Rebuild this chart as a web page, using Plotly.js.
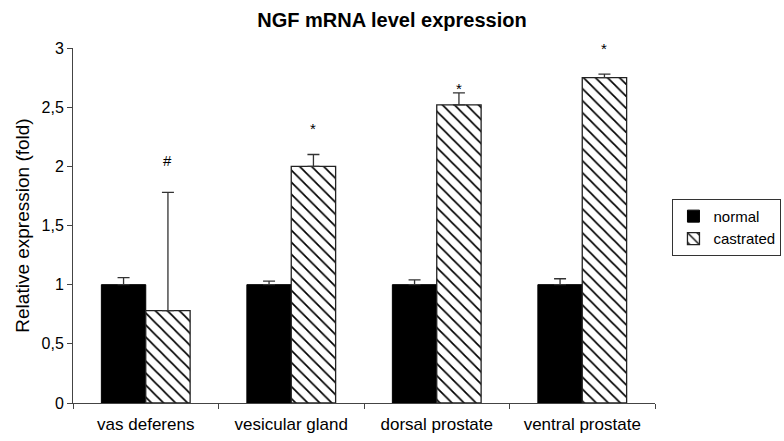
<!DOCTYPE html>
<html>
<head>
<meta charset="utf-8">
<script src="https://cdn.plot.ly/plotly-3.0.1.min.js"></script>
<style>html,body{margin:0;padding:0;background:#fff}#chart{width:784px;height:441px}</style>
</head>
<body>
<div id="chart"></div>
<script>
const categories = ["vas deferens", "vesicular gland", "dorsal prostate", "ventral prostate"];
const normalValues = [1.0, 1.0, 1.0, 1.0];
const normalErrors = [0.06, 0.03, 0.04, 0.05];
const castratedValues = [0.78, 2.0, 2.52, 2.75];
const castratedErrors = [1.0, 0.1, 0.1, 0.03];
const markLabels = ["#", "*", "*", "*"];
const markHeights = [2.05, 2.32, 2.66, 3.0];

const font = "Liberation Sans, Arial, sans-serif";

const traces = [
  {
    type: "bar", name: "normal", x: categories, y: normalValues,
    marker: {color: "#000000", line: {color: "#000000", width: 1}},
    error_y: {type: "data", array: normalErrors, arrayminus: normalErrors.map(() => 0), symmetric: false,
              color: "#333333", thickness: 1.3, width: 6}
  },
  {
    type: "bar", name: "castrated", x: categories, y: castratedValues,
    marker: {color: "#ffffff", line: {color: "#222222", width: 1.3},
             pattern: {shape: "\\", fgcolor: "#000000", bgcolor: "#ffffff", size: 8.5, solidity: 0.2}},
    error_y: {type: "data", array: castratedErrors, arrayminus: castratedErrors.map(() => 0), symmetric: false,
              color: "#333333", thickness: 1.3, width: 6}
  }
];

const annotations = categories.map((c, i) => ({
  x: c, y: markHeights[i], xref: "x", yref: "y", text: markLabels[i], showarrow: false,
  xshift: 22, font: {family: font, size: 15, color: "#000"}
}));

const layout = {
  width: 784, height: 441,
  margin: {l: 73, r: 129, t: 48, b: 38, autoexpand: false},
  paper_bgcolor: "#fff", plot_bgcolor: "#fff",
  separators: ",.",
  font: {family: font, size: 16, color: "#000"},
  title: {text: "<b>NGF mRNA level expression</b>", x: 0.5, xref: "container", y: 0.955, yanchor: "middle",
          font: {family: font, size: 20, color: "#000"}},
  barmode: "group", bargap: 0.39, bargroupgap: 0,
  showlegend: true,
  legend: {x: 1.03, y: 0.575, xanchor: "left", yanchor: "top", bordercolor: "#333", borderwidth: 1,
           font: {family: font, size: 15, color: "#000"}, tracegroupgap: 0, itemwidth: 30},
  xaxis: {type: "category", showline: true, linecolor: "#444", linewidth: 1, ticks: "outside", tickson: "boundaries",
          ticklen: 5, tickcolor: "#444", showgrid: false, zeroline: false, ticklabelstandoff: 6,
          tickfont: {family: font, size: 17, color: "#000"}},
  yaxis: {range: [0, 3], dtick: 0.5, showline: true, linecolor: "#444", linewidth: 1, ticks: "outside",
          ticklen: 5, tickcolor: "#444", showgrid: false, zeroline: false,
          tickfont: {family: font, size: 16, color: "#000"},
          title: {text: "Relative expression (fold)", font: {family: font, size: 19, color: "#000"}, standoff: 6}},
  annotations: annotations
};

Plotly.newPlot("chart", traces, layout, {staticPlot: true, displayModeBar: false});
</script>
</body>
</html>
